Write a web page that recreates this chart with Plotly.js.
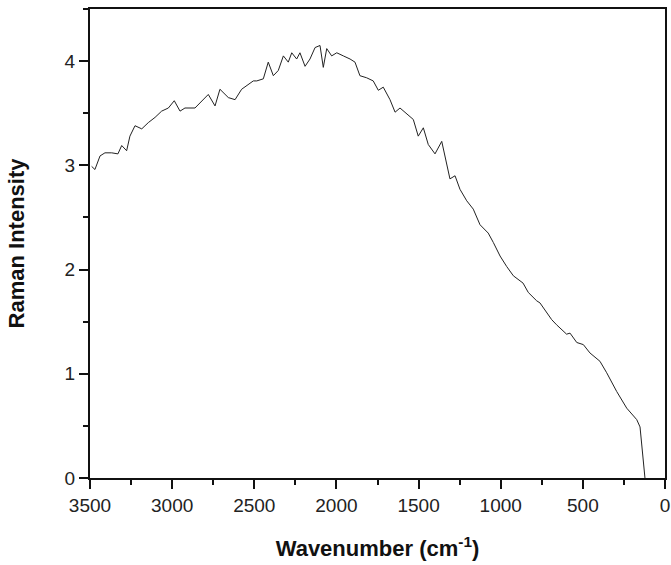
<!DOCTYPE html>
<html>
<head>
<meta charset="utf-8">
<script src="https://cdn.plot.ly/plotly-3.0.1.min.js"></script>
<style>html,body{margin:0;padding:0;background:#fff;}#chart{width:671px;height:565px;}</style>
</head>
<body>
<div id="chart"></div>
<script>
// Wavenumber (cm^-1)
const wavenumber = [3490,3470,3439,3409,3368,3330,3307,3277,3257,3226,3185,3145,3104,3064,3023,2987,2952,2922,2861,2820,2780,2739,2709,2658,2617,2577,2536,2506,2485,2445,2415,2384,2354,2323,2293,2272,2242,2222,2191,2161,2130,2100,2080,2059,2029,1998,1958,1917,1887,1857,1816,1776,1745,1715,1674,1643,1613,1572,1532,1502,1471,1441,1400,1359,1329,1309,1278,1248,1207,1167,1126,1076,1045,1004,964,923,864,832,781,761,690,660,599,578,537,497,457,396,355,294,233,172,152,141,122];
// Raman intensity
const intensity = [2.99,2.96,3.09,3.12,3.12,3.11,3.19,3.14,3.28,3.38,3.35,3.41,3.46,3.52,3.55,3.62,3.52,3.55,3.55,3.62,3.68,3.57,3.73,3.65,3.63,3.73,3.78,3.81,3.81,3.83,3.99,3.86,3.91,4.05,3.99,4.08,4.02,4.08,3.95,4.02,4.13,4.15,3.94,4.12,4.05,4.08,4.05,4.02,3.99,3.86,3.84,3.81,3.72,3.75,3.63,3.51,3.55,3.49,3.44,3.28,3.36,3.20,3.11,3.23,3.03,2.87,2.90,2.77,2.66,2.58,2.43,2.35,2.26,2.13,2.03,1.94,1.87,1.78,1.70,1.68,1.52,1.47,1.38,1.39,1.30,1.28,1.20,1.12,1.01,0.83,0.67,0.56,0.49,0.30,0.0];
const xTickVals = [3500,3000,2500,2000,1500,1000,500,0];
const xTickText = ['3500','3000','2500','2000','1500','1000','500','0'];
const yTickVals = [0,1,2,3,4];
const yTickText = ['0','1','2','3','4'];

const trace = {
  x: wavenumber, y: intensity, type: 'scatter', mode: 'lines',
  line: {color: '#222', width: 1}, hoverinfo: 'skip'
};
const axisCommon = {
  showgrid: false, zeroline: false, showline: true, linecolor: '#111', linewidth: 2,
  mirror: true, ticks: 'outside', ticklen: 9, tickwidth: 2, tickcolor: '#111',
  tickfont: {family: 'Liberation Sans, Arial, sans-serif', size: 19, color: '#222'}
};
const layout = {
  width: 671, height: 565,
  margin: {l: 90, r: 6, t: 9, b: 87},
  paper_bgcolor: '#fff', plot_bgcolor: '#fff', showlegend: false,
  xaxis: Object.assign({}, axisCommon, {
    range: [3500, 0], tickmode: 'array', tickvals: xTickVals, ticktext: xTickText,
    minor: {dtick: 250, tick0: 0, ticks: 'outside', ticklen: 5, tickwidth: 2, tickcolor: '#111'},
    title: {text: 'Wavenumber (cm<sup>-1</sup>)', standoff: 26,
      font: {family: 'Liberation Sans, Arial, sans-serif', size: 22, color: '#111', weight: 'bold'}}
  }),
  yaxis: Object.assign({}, axisCommon, {
    range: [0, 4.5], tickmode: 'array', tickvals: yTickVals, ticktext: yTickText,
    minor: {dtick: 0.5, tick0: 0, ticks: 'outside', ticklen: 5, tickwidth: 2, tickcolor: '#111'},
    title: {text: 'Raman Intensity', standoff: 34,
      font: {family: 'Liberation Sans, Arial, sans-serif', size: 22, color: '#111', weight: 'bold'}}
  })
};
Plotly.newPlot('chart', [trace], layout, {displayModeBar: false, staticPlot: true});
</script>
</body>
</html>
